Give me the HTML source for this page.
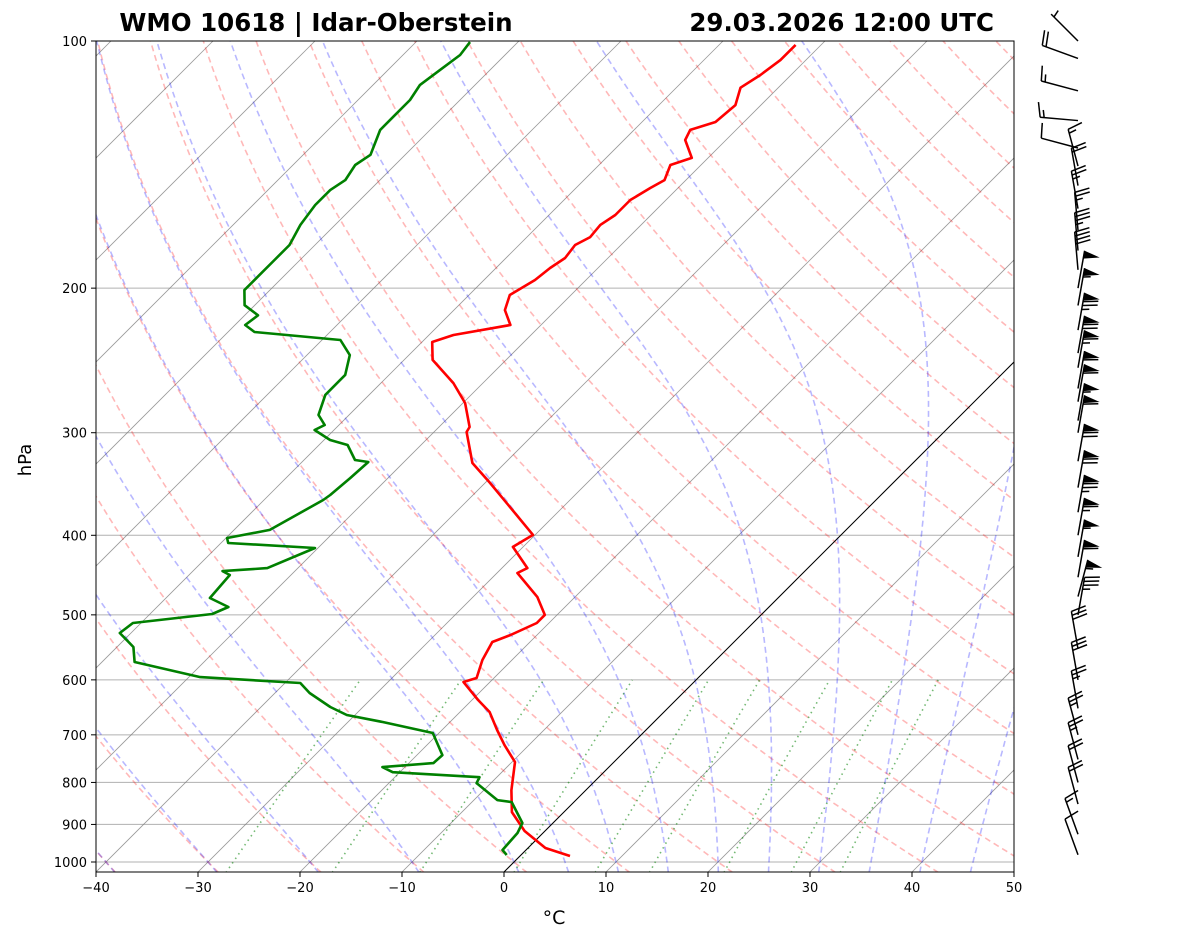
<!DOCTYPE html>
<html><head><meta charset="utf-8">
<style>
html,body{margin:0;padding:0;background:#fff;}
svg{display:block;font-family:"DejaVu Sans","Liberation Sans",sans-serif;}
</style></head>
<body>
<svg id="chart" width="1181" height="941" viewBox="0 0 1181 941" xmlns="http://www.w3.org/2000/svg">
<defs><clipPath id="plotclip"><rect x="96" y="41" width="918" height="831"/></clipPath></defs>
<rect x="0" y="0" width="1181" height="941" fill="#fff"/>
<g id="bg" clip-path="url(#plotclip)"></g>
<g id="data" clip-path="url(#plotclip)"></g>
<rect x="96" y="41" width="918" height="831" fill="none" stroke="#000" stroke-width="1"/>
<g id="axes"></g>
<g id="barbs"></g>
<text x="316" y="31" text-anchor="middle" font-size="24.5" font-weight="bold">WMO 10618 | Idar-Oberstein</text>
<text x="994" y="31" text-anchor="end" font-size="24.5" font-weight="bold">29.03.2026 12:00 UTC</text>
<text x="0" y="0" transform="translate(31,460) rotate(-90)" text-anchor="middle" font-size="18">hPa</text>
<text x="554" y="924" text-anchor="middle" font-size="19">°C</text>
</svg>
<script>
const tempP=[101.1,105.5,110.0,114.0,119.7,125.5,128.3,132.0,138.8,141.6,147.7,151.0,156.2,162.9,167.5,173.3,177.2,183.8,189.0,195.5,203.9,212.7,221.8,228.1,232.6,244.6,261.0,276.0,295.2,299.4,326.6,345.4,399.6,413.2,438.5,444.6,475.5,500.1,511.5,529.0,539.5,567.5,596.9,603.6,634.9,656.6,690.6,720.4,755.6,817.5,869.3,916.7,961.4,983.3];
const tempT=[-52.5,-52.5,-53.0,-53.7,-52.5,-52.8,-54.5,-54.0,-51.6,-53.0,-52.1,-52.7,-53.5,-53.5,-54.0,-53.8,-54.5,-54.2,-54.7,-55.0,-56.0,-55.0,-53.0,-57.6,-59.0,-57.2,-52.9,-49.8,-47.0,-46.8,-43.2,-39.5,-30.2,-31.0,-27.5,-28.0,-23.7,-21.2,-21.2,-22.6,-23.7,-22.9,-21.7,-22.6,-19.4,-17.1,-14.6,-12.4,-9.7,-7.3,-5.1,-2.0,1.7,4.9];
const dewP=[100.3,104.0,108.5,113.1,118.0,123.0,128.3,137.6,141.6,147.7,151.9,158.4,167.5,177.2,184.8,192.8,201.1,209.8,215.8,221.8,226.2,231.3,241.3,255.1,269.8,285.4,293.6,297.7,306.2,310.5,323.9,325.7,340.6,357.3,362.3,394.0,403.0,408.7,414.5,438.5,442.2,447.1,476.9,489.1,498.8,511.5,526.1,547.1,570.7,595.3,605.3,622.6,647.5,662.2,675.3,696.5,741.0,757.8,766.4,777.3,788.3,801.6,840.6,845.3,896.4,921.9,966.9,980.6];
const dewT=[-84.7,-84.4,-84.9,-85.4,-84.9,-84.9,-84.9,-83.4,-83.9,-83.4,-83.9,-83.9,-83.4,-82.5,-82.5,-82.5,-82.5,-81.0,-78.7,-79.0,-77.4,-68.2,-65.8,-64.3,-64.3,-63.0,-61.4,-61.9,-59.4,-57.2,-55.0,-53.5,-53.7,-54.0,-54.2,-56.5,-59.9,-59.3,-50.3,-53.0,-57.1,-56.0,-55.7,-53.0,-53.9,-60.8,-61.1,-58.4,-56.8,-48.9,-38.5,-36.6,-33.2,-30.8,-26.6,-20.6,-17.5,-17.6,-22.2,-20.7,-11.7,-11.4,-7.7,-6.1,-3.0,-2.5,-2.3,-1.4];
const windP=[100,105,115,125,135,142,150,160,170,180,190,200,210,225,240,250,265,275,290,300,325,350,375,400,425,450,475,500,550,600,650,700,750,800,850,925,980];
const windSpd=[5,20,15,15,10,15,20,25,25,35,40,50,55,75,70,65,60,60,55,60,70,70,75,65,55,60,55,35,30,30,25,25,25,20,20,15,10];
const windDir=[315,290,285,275,285,345,350,350,355,355,355,10,10,10,10,10,10,10,10,10,10,10,10,10,10,10,15,10,350,350,350,345,345,345,345,340,340];
const pTicks=[100,200,300,400,500,600,700,800,900,1000];
const tTicks=[-40,-30,-20,-10,0,10,20,30,40,50];

const NS='http://www.w3.org/2000/svg';
const X0=96,X1=1014,Y0=41,Y1=872,PBOT=1030;
function yP(p){return Y0+821*Math.log10(p/100);}
function xT(t,p){return X0+(t+40)*10.2+(Y1-yP(p));}
function mk(tag,attrs,parent){const e=document.createElementNS(NS,tag);for(const k in attrs)e.setAttribute(k,attrs[k]);parent.appendChild(e);return e;}
function pathD(ps,ts){let d='';for(let i=0;i<ps.length;i++){d+=(i?'L':'M')+xT(ts[i],ps[i]).toFixed(1)+','+yP(ps[i]).toFixed(1);}return d;}
const bg=document.getElementById('bg'),dg=document.getElementById('data'),ax=document.getElementById('axes'),bb=document.getElementById('barbs');

for(const p of pTicks){
 const l=mk('line',{x1:X0,x2:X1,y1:yP(p),y2:yP(p),stroke:'#b0b0b0','stroke-width':1},bg);
 
 
}
for(let t=-130;t<=50;t+=10){
 const l=mk('line',{x1:xT(t,PBOT),y1:yP(PBOT),x2:xT(t,100),y2:yP(100),stroke:'#808080','stroke-opacity':0.8,'stroke-width':0.8},bg);
 
 
}
const plev=[];for(let p=PBOT;p>=100;p-=5)plev.push(p);
for(let t0=-40;t0<=200;t0+=10){
 const ts=plev.map(p=>(t0+273.15)*Math.pow(p/1000,0.2857)-273.15);
 const e=mk('path',{d:pathD(plev,ts),fill:'none',stroke:'#ff0000','stroke-opacity':0.28,'stroke-width':1.6,'stroke-dasharray':'6,4'},bg);
 
 
}
function es(tc){return 6.112*Math.exp(17.67*tc/(tc+243.5));}
function dTdp(T,p){const e=es(T-273.15);const rs=0.622*e/(p-e);const Lv=2.501e6,Rd=287.04,Cp=1005.7;return (Rd*T+Lv*rs)/(p*(Cp+Lv*Lv*rs*0.622/(Rd*T*T)));}
function moist(t0){
 const res={};let T=t0+273.15,p=1000;res[1000]=T;
 const h=-1;
 for(let i=0;i<900;i++){const k1=dTdp(T,p),k2=dTdp(T+k1*h/2,p+h/2),k3=dTdp(T+k2*h/2,p+h/2),k4=dTdp(T+k3*h,p+h);T+=h*(k1+2*k2+2*k3+k4)/6;p+=h;res[Math.round(p)]=T;}
 T=t0+273.15;p=1000;
 for(let i=0;i<30;i++){const k=dTdp(T,p);T+=k;p+=1;res[Math.round(p)]=T;}
 return res;
}
const moistT0=[-50,-40,-30,-20,-10,0,5,10,15,20,25,30,35,40,45,50];
for(const t0 of moistT0){
 const r=moist(t0);const ts=plev.map(p=>r[p]-273.15);
 const e=mk('path',{d:pathD(plev,ts),fill:'none',stroke:'#0000ff','stroke-opacity':0.28,'stroke-width':1.6,'stroke-dasharray':'6,4'},bg);
 
 
}
const mixW=[0.0004,0.001,0.002,0.004,0.007,0.01,0.016,0.024,0.032];
const mp=[];for(let p=PBOT;p>=600;p-=10)mp.push(p);
for(const w of mixW){
 const ts=mp.map(p=>{const e=w*p/(0.622+w);const l=Math.log(e/6.112);return 243.5*l/(17.67-l);});
 const e=mk('path',{d:pathD(mp,ts),fill:'none',stroke:'#008000','stroke-opacity':0.55,'stroke-width':1.6,'stroke-dasharray':'1.5,4'},bg);
 
 
}
const z=mk('line',{x1:xT(0,PBOT),y1:yP(PBOT),x2:xT(0,100),y2:yP(100),stroke:'#000','stroke-width':1},bg);


const tl=mk('path',{d:pathD(tempP,tempT),fill:'none',stroke:'#ff0000','stroke-width':2.6,'stroke-linejoin':'round'},dg);


const dl=mk('path',{d:pathD(dewP,dewT),fill:'none',stroke:'#008000','stroke-width':2.6,'stroke-linejoin':'round'},dg);


for(const p of pTicks){
 const y=yP(p);
 const t=mk('line',{x1:X0-5,x2:X0,y1:y,y2:y,stroke:'#000','stroke-width':1},ax);
 
 
 const tx=mk('text',{x:X0-9,y:y+5,'text-anchor':'end','font-size':13},ax);tx.textContent=p;
 
 
}
for(const tv of tTicks){
 const x=X0+(tv+40)*10.2;
 const t=mk('line',{x1:x,x2:x,y1:Y1,y2:Y1+5,stroke:'#000','stroke-width':1},ax);
 
 
 const tx=mk('text',{x:x,y:Y1+20,'text-anchor':'middle','font-size':13},ax);tx.textContent=(tv<0?'\u2212'+(-tv):tv);
 
 
}
const BX=1078,L=38;
for(let i=0;i<windP.length;i++){
 const by=yP(windP[i]);const a=windDir[i]*Math.PI/180;
 const ux=Math.sin(a),uy=-Math.cos(a);const px=-uy,py=ux;
 const g=mk('g',{},bb);
 
 
 const tx=BX+ux*L,ty=by+uy*L;
 mk('line',{x1:BX,y1:by,x2:tx,y2:ty,stroke:'#000','stroke-width':1.5},g);
 let s=Math.round(windSpd[i]/5)*5;let pos=0;
 while(s>=50){const bx0=tx-ux*pos,by0=ty-uy*pos;
  mk('polygon',{points:`${bx0},${by0} ${bx0+px*16+ux*-4},${by0+py*16+uy*-4} ${bx0-ux*8},${by0-uy*8}`,fill:'#000'},g);pos+=9;s-=50;}
 while(s>=10){const bx0=tx-ux*pos,by0=ty-uy*pos;
  mk('line',{x1:bx0,y1:by0,x2:bx0+px*15+ux*3,y2:by0+py*15+uy*3,stroke:'#000','stroke-width':1.5},g);pos+=4;s-=10;}
 if(s>=5){if(pos===0)pos=4;const bx0=tx-ux*pos,by0=ty-uy*pos;
  mk('line',{x1:bx0,y1:by0,x2:bx0+px*7.5+ux*1.5,y2:by0+py*7.5+uy*1.5,stroke:'#000','stroke-width':1.5},g);}
}
</script>
</body></html>
